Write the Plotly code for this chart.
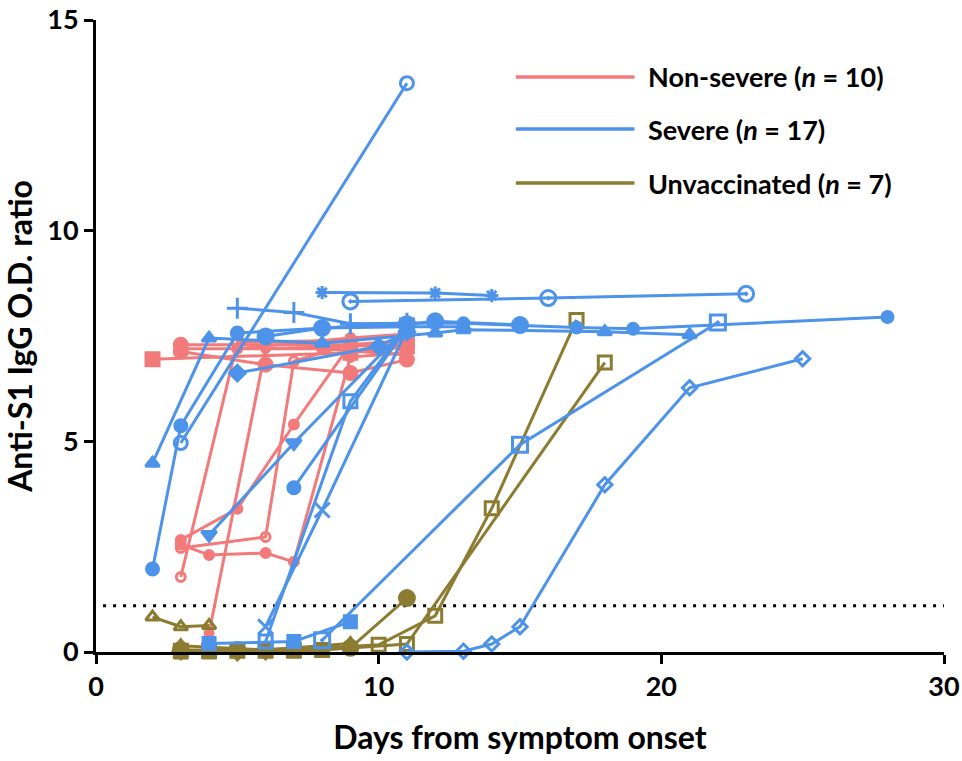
import plotly.graph_objects as go

# Anti-S1 IgG O.D. ratio by day from symptom onset, one line per patient

# ---- Non-severe patients (n = 10) ----
NONSEVERE_DAYS = [
    [2, 9, 11],
    [3, 9, 11],
    [3, 5, 7, 9, 11],
    [3, 6, 7, 9],
    [3, 4, 6, 7, 9, 11],
    [3, 5, 9],
    [4, 6, 11],
    [3, 6, 9, 11],
    [3, 8, 11],
    [5, 9, 11],
]
NONSEVERE_OD = [
    [6.95, 7.1, 7.25],
    [7.29, 7.29, 7.4],
    [2.66, 3.4, 5.4, 7.3, 7.2],
    [2.47, 2.73, 6.9, 7.3],
    [2.55, 2.3, 2.35, 2.14, 7.0, 7.1],
    [1.78, 7.35, 7.4],
    [0.45, 7.2, 7.3],
    [7.13, 6.82, 6.62, 6.94],
    [7.2, 7.2, 7.05],
    [7.2, 7.45, 7.55],
]

# ---- Severe patients (n = 17) ----
SEVERE_DAYS = [
    [3, 11],
    [2, 3, 5, 11],
    [2, 4, 8, 12, 13, 18, 21],
    [5, 7, 9, 11],
    [8, 12, 14],
    [9, 16, 23],
    [5, 10, 11],
    [4, 7, 11],
    [7, 11],
    [8, 11, 13],
    [8, 15, 22],
    [6, 8, 11],
    [6, 9, 11],
    [4, 7, 9],
    [11, 13, 14, 15, 18, 21, 25],
    [11, 13, 17, 19, 28],
    [6, 8, 11, 12, 15],
]
SEVERE_OD = [
    [4.96, 13.5],
    [1.97, 5.37, 7.57, 7.8],
    [4.48, 7.45, 7.33, 7.57, 7.65, 7.6, 7.53],
    [8.16, 8.06, 7.79, 7.8],
    [8.53, 8.52, 8.46],
    [8.32, 8.4, 8.5],
    [6.62, 7.25, 7.6],
    [2.78, 4.96, 7.7],
    [3.9, 7.7],
    [7.69, 7.72, 7.72],
    [0.28, 4.92, 7.82],
    [0.6, 3.37, 7.65],
    [0.25, 5.95, 7.75],
    [0.2, 0.25, 0.72],
    [0.0, 0.02, 0.19, 0.6, 3.97, 6.27, 6.96],
    [7.8, 7.8, 7.7, 7.67, 7.95],
    [7.49, 7.69, 7.78, 7.85, 7.76],
]

# ---- Unvaccinated patients (n = 7) ----
UNVACC_DAYS = [
    [2, 3, 4],
    [3, 5, 7, 10, 12, 14, 17],
    [4, 6, 8, 11, 18],
    [3, 5, 9, 11],
    [3, 6, 9],
    [3, 4, 7, 8],
    [3, 5, 6],
]
UNVACC_OD = [
    [0.83, 0.6, 0.63],
    [0.03, 0.03, 0.05, 0.17, 0.86, 3.41, 7.88],
    [0.03, 0.03, 0.05, 0.19, 6.87],
    [0.05, 0.05, 0.1, 1.28],
    [0.15, 0.05, 0.2],
    [0.0, 0.0, 0.02, 0.05],
    [0.02, 0.0, 0.02],
]

CUTOFF = 1.1

GROUP_LABELS = [
    "Non-severe (<i>n</i> = 10)",
    "Severe (<i>n</i> = 17)",
    "Unvaccinated (<i>n</i> = 7)",
]
X_TICKS = [0, 10, 20, 30]
Y_TICKS = [0, 5, 10, 15]

# ---- styling ----
RED = "rgb(243,122,122)"
BLUE = "rgb(77,147,234)"
OLIVE = "rgb(140,124,50)"

NONSEVERE_SYMBOLS = ["square", "circle", "circle", "circle-open", "circle",
                     "circle-open", "circle", "circle", "circle", "circle"]
NONSEVERE_SIZES = [13, 13, 9, 9, 9, 9, 8, 13, 9, 9]
SEVERE_SYMBOLS = ["circle-open", "circle", "triangle-up", "cross-thin-open",
                  "asterisk-open", "circle-open-dot", "diamond", "triangle-down",
                  "circle", "triangle-up", "square-open-dot", "x-thin-open",
                  "square-open", "square", "diamond-open", "circle", "circle"]
SEVERE_SIZES = [13, 12, 12, 15, 11, 15, 12, 13, 12, 12, 15, 15, 13, 12, 11, 11, 15]
UNVACC_SYMBOLS = ["triangle-up-open", "square-open", "square-open", "circle",
                  "triangle-up", "square", "diamond"]
UNVACC_SIZES = [12, 13, 13, 15, 12, 12, 12]

FONT = "Lato"

fig = go.Figure()


def add_group(days, values, color, symbols, sizes):
    for d, v, s, sz in zip(days, values, symbols, sizes):
        fig.add_trace(go.Scatter(
            x=d, y=v, mode="lines+markers",
            line=dict(color=color, width=3),
            marker=dict(symbol=s, size=sz, color=color,
                        line=dict(color=color, width=3)),
            cliponaxis=False, showlegend=False, hoverinfo="x+y",
        ))


add_group(NONSEVERE_DAYS, NONSEVERE_OD, RED, NONSEVERE_SYMBOLS, NONSEVERE_SIZES)
add_group(UNVACC_DAYS, UNVACC_OD, OLIVE, UNVACC_SYMBOLS, UNVACC_SIZES)
add_group(SEVERE_DAYS, SEVERE_OD, BLUE, SEVERE_SYMBOLS, SEVERE_SIZES)

shapes = [
    # positivity cut-off
    dict(type="line", xref="x", yref="y", x0=0.25, x1=30, y0=CUTOFF, y1=CUTOFF,
         line=dict(color="black", width=3, dash="3px,7px"), layer="below"),
]
annotations = []

# legend drawn with long line keys
legend_colors = [RED, BLUE, OLIVE]
legend_y = [0.910, 0.8275, 0.742]
for label, col, ly in zip(GROUP_LABELS, legend_colors, legend_y):
    shapes.append(dict(type="line", xref="paper", yref="paper",
                       x0=0.495, x1=0.635, y0=ly, y1=ly,
                       line=dict(color=col, width=3.5)))
    annotations.append(dict(xref="paper", yref="paper", x=0.648, y=ly,
                            xanchor="left", yanchor="middle", showarrow=False,
                            text="<b>" + label + "</b>",
                            font=dict(family=FONT, size=27, color="black")))

axis_common = dict(
    showline=True, linecolor="black", linewidth=3,
    ticks="outside", ticklen=9, tickwidth=3, tickcolor="black",
    showgrid=False, zeroline=False, ticklabeloverflow="allow",
    automargin=False,
    tickfont=dict(family=FONT, size=27, color="black", weight="bold"),
)

fig.update_layout(
    width=962, height=761,
    margin=dict(l=96, r=18, t=20, b=109),
    plot_bgcolor="white", paper_bgcolor="white",
    showlegend=False,
    xaxis=dict(range=[0, 30], tickvals=X_TICKS, **axis_common,
               title=dict(text="<b>Days from symptom onset</b>", standoff=26,
                          font=dict(family=FONT, size=32, color="black"))),
    yaxis=dict(range=[0, 15], tickvals=Y_TICKS, **axis_common,
               title=dict(text="<b>Anti-S1 IgG O.D. ratio</b>", standoff=18,
                          font=dict(family=FONT, size=32, color="black"))),
    shapes=shapes,
    annotations=annotations,
)

fig.write_html("out.html")
